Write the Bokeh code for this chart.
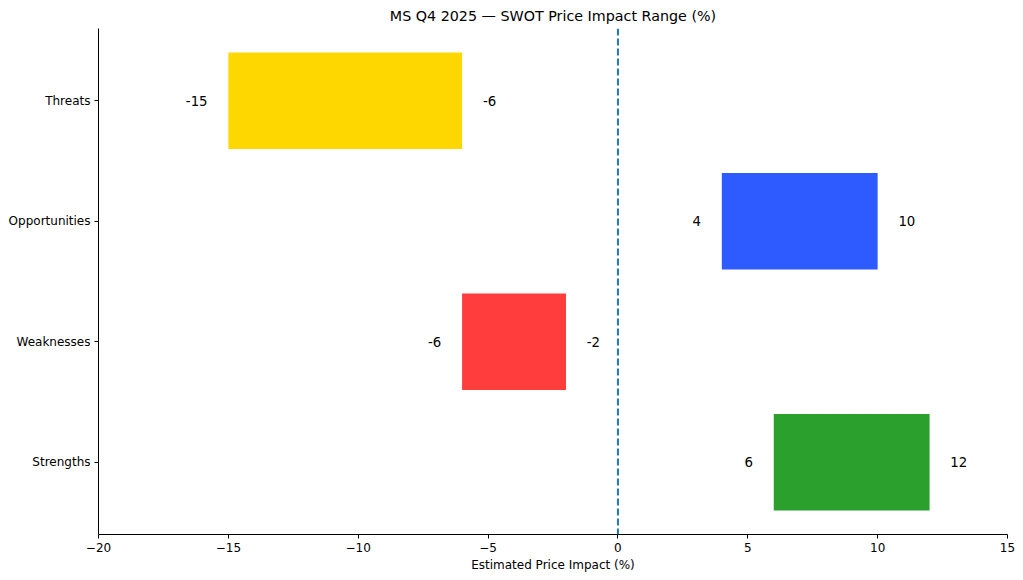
from bokeh.plotting import figure
from bokeh.models import Range1d, FixedTicker, Span, ColumnDataSource, LabelSet
from bokeh.embed import file_html
from bokeh.resources import INLINE
from bokeh.core.properties import value

categories = ["Strengths", "Weaknesses", "Opportunities", "Threats"]
low_values = [6, -6, 4, -15]
high_values = [12, -2, 10, -6]
colors = ["#2ca02c", "#ff3d3d", "#2e5bff", "#ffd700"]
x_ticks = [-20, -15, -10, -5, 0, 5, 10, 15]

FONT = "DejaVu Sans"
ypos = list(range(len(categories)))
offset = 0.8

src = ColumnDataSource(dict(
    y=ypos, left=low_values, right=high_values, color=colors,
    lo_x=[v - offset for v in low_values], hi_x=[v + offset for v in high_values],
    lo_t=[str(v) for v in low_values], hi_t=[str(v) for v in high_values],
))

p = figure(frame_width=909, frame_height=506, output_backend="svg", toolbar_location=None,
           x_range=Range1d(-20, 15), y_range=Range1d(-0.6, 3.6),
           min_border_left=98, min_border_right=8, min_border_top=20, min_border_bottom=38,
           title="MS Q4 2025 — SWOT Price Impact Range (%)")
p.title.align = "center"
p.title.text_font = FONT
p.title.text_font_size = "14.3px"
p.title.text_font_style = "normal"
p.title.text_color = "#000000"
p.title.offset = 0

p.hbar(y="y", left="left", right="right", height=0.8, fill_color="color", line_color=None, source=src)

p.add_layout(Span(location=0, dimension="height", line_color="#1f77b4", line_width=2, line_dash="7 3"))

p.add_layout(LabelSet(x="lo_x", y="y", text="lo_t", source=src, text_align="right", text_baseline="middle",
                      text_font=value(FONT), text_font_size="13.3px", text_color="#000000"))
p.add_layout(LabelSet(x="hi_x", y="y", text="hi_t", source=src, text_align="left", text_baseline="middle",
                      text_font=value(FONT), text_font_size="13.3px", text_color="#000000"))

p.grid.visible = False
p.outline_line_color = None

p.xaxis.ticker = FixedTicker(ticks=x_ticks)
p.xaxis.major_label_overrides = {t: str(t).replace("-", "\u2212") for t in x_ticks}
p.xaxis.axis_label = "Estimated Price Impact (%)"
p.yaxis.ticker = FixedTicker(ticks=ypos)
p.yaxis.major_label_overrides = {i: c for i, c in enumerate(categories)}

for ax in (p.xaxis, p.yaxis):
    ax.minor_tick_line_color = None
    ax.major_tick_in = 0
    ax.major_tick_out = 4
    ax.axis_line_color = "#000000"
    ax.major_tick_line_color = "#000000"
    ax.major_label_text_font = FONT
    ax.major_label_text_font_size = "12px"
    ax.major_label_text_color = "#000000"
    ax.axis_label_text_font = FONT
    ax.axis_label_text_font_size = "12px"
    ax.axis_label_text_font_style = "normal"
    ax.axis_label_text_color = "#000000"
    ax.major_label_standoff = 4
    ax.axis_label_standoff = 3

open("out.html", "w").write(file_html(p, INLINE))
